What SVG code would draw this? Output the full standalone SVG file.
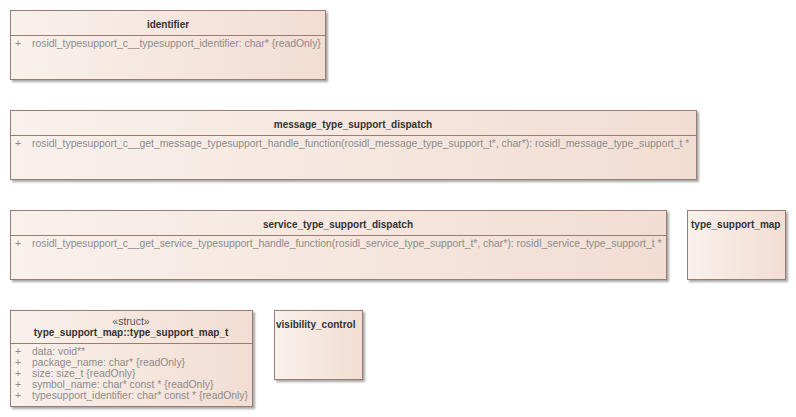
<svg xmlns="http://www.w3.org/2000/svg" width="796" height="417" viewBox="0 0 796 417">
<defs>
<linearGradient id="g" x1="0" y1="0" x2="1" y2="0">
<stop offset="0" stop-color="#f9f1ec"/>
<stop offset="1" stop-color="#f2ddd2"/>
</linearGradient>
<filter id="sh" x="-5%" y="-5%" width="115%" height="130%">
<feOffset dx="2" dy="2" in="SourceAlpha" result="o"/>
<feGaussianBlur in="o" stdDeviation="0.8" result="b"/>
<feComponentTransfer in="b" result="c"><feFuncA type="linear" slope="0.35"/></feComponentTransfer>
<feMerge><feMergeNode in="c"/><feMergeNode in="SourceGraphic"/></feMerge>
</filter>
</defs>
<style>
.box{fill:url(#g);stroke:#9b7b74;stroke-width:1;filter:url(#sh)}
.div{stroke:#9b7b74;stroke-width:1}
.t{font-family:"Liberation Sans",Arial,sans-serif;font-size:10px;font-weight:bold;fill:#333333}
.st{font-family:"Liberation Sans",Arial,sans-serif;font-size:10.5px;fill:#555555}
.a{font-family:"Liberation Sans",Arial,sans-serif;font-size:10.4px;fill:#8c8c8c}
</style>
<g id="identifier">
<rect class="box" x="10.5" y="10.5" width="315" height="69"/>
<line class="div" x1="10.5" y1="35.5" x2="325.5" y2="35.5"/>
<text class="t" x="168" y="27.5" text-anchor="middle">identifier</text>
<text class="a" x="15" y="47">+</text>
<text class="a" x="32" y="47">rosidl_typesupport_c__typesupport_identifier: char* {readOnly}</text>
</g>
<g id="message_type_support_dispatch">
<rect class="box" x="10.5" y="110.5" width="686" height="69"/>
<line class="div" x1="10.5" y1="135.5" x2="696.5" y2="135.5"/>
<text class="t" x="353" y="127.5" text-anchor="middle">message_type_support_dispatch</text>
<text class="a" x="15" y="147">+</text>
<text class="a" x="32" y="147">rosidl_typesupport_c__get_message_typesupport_handle_function(rosidl_message_type_support_t*, char*): rosidl_message_type_support_t *</text>
</g>
<g id="service_type_support_dispatch">
<rect class="box" x="10.5" y="210.5" width="656" height="69"/>
<line class="div" x1="10.5" y1="235.5" x2="666.5" y2="235.5"/>
<text class="t" x="338" y="227.5" text-anchor="middle">service_type_support_dispatch</text>
<text class="a" x="15" y="247">+</text>
<text class="a" x="32" y="247">rosidl_typesupport_c__get_service_typesupport_handle_function(rosidl_service_type_support_t*, char*): rosidl_service_type_support_t *</text>
</g>
<g id="type_support_map">
<rect class="box" x="687.5" y="210.5" width="98" height="69"/>
<text class="t" x="691" y="228.3">type_support_map</text>
</g>
<g id="type_support_map_t">
<rect class="box" x="10.5" y="310.5" width="242" height="96"/>
<line class="div" x1="10.5" y1="343.5" x2="252.5" y2="343.5"/>
<text class="st" x="131" y="325" text-anchor="middle">«struct»</text>
<text class="t" x="131" y="336" text-anchor="middle">type_support_map::type_support_map_t</text>
<text class="a" x="15" y="355">+</text>
<text class="a" x="32" y="355">data: void**</text>
<text class="a" x="15" y="366">+</text>
<text class="a" x="32" y="366">package_name: char* {readOnly}</text>
<text class="a" x="15" y="377">+</text>
<text class="a" x="32" y="377">size: size_t {readOnly}</text>
<text class="a" x="15" y="388">+</text>
<text class="a" x="32" y="388">symbol_name: char* const * {readOnly}</text>
<text class="a" x="15" y="399">+</text>
<text class="a" x="32" y="399">typesupport_identifier: char* const * {readOnly}</text>
</g>
<g id="visibility_control">
<rect class="box" x="274.5" y="310.5" width="88" height="69"/>
<text class="t" x="276" y="328">visibility_control</text>
</g>
<g id="connectors"/>
</svg>
